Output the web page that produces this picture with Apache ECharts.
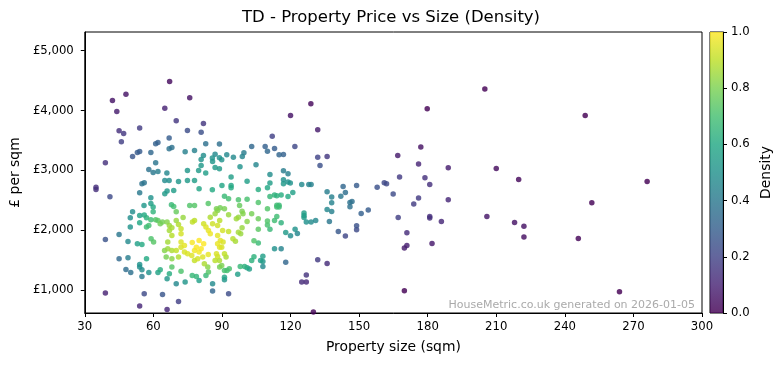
<!DOCTYPE html>
<html><head><meta charset="utf-8">
<script src="https://cdn.jsdelivr.net/npm/echarts@6/dist/echarts.min.js"></script>
<style>html,body{margin:0;padding:0;background:#fff}#c{width:782px;height:365px}</style>
</head><body><div id="c"></div>
<script>
// Property size (sqm) and price per sqm (£)
const sizes = [
 67.1,48.0,42.1,75.9,44.0,65.0,70.0,45.0,47.0,54.0,74.9,81.9,80.9,46.0,66.9,61.0,62.0,82.9,88.9,66.9,
 68.1,53.0,54.0,50.9,58.9,73.9,78.0,39.0,61.0,58.0,59.9,62.0,65.9,74.9,79.8,80.9,81.9,82.9,80.9,85.8,
 85.9,87.0,88.9,89.9,87.0,88.9,92.1,95.0,98.9,97.9,99.6,
 34.9,34.9,41.0,55.0,56.0,54.0,65.0,66.9,65.0,66.0,68.9,71.0,74.9,78.0,80.0,85.8,90.0,94.0,94.0,58.9,
 58.9,59.9,55.9,50.9,54.0,56.0,49.9,54.0,49.9,57.0,58.9,57.0,58.0,59.9,61.0,67.9,68.9,70.0,75.9,78.0,
 73.0,62.0,64.0,63.0,66.0,67.0,68.1,70.0,71.0,72.1,72.1,67.0,68.1,77.1,78.0,82.0,83.0,84.1,84.9,84.9,
 87.0,88.1,89.2,91.1,85.9,88.1,89.0,90.3,88.1,89.3,88.1,80.0,78.8,80.9,78.0,80.0,76.8,75.0,73.6,79.4,
 78.0,81.6,82.3,83.8,66.3,64.9,66.3,68.1,70.0,65.6,68.1,71.0,72.1,72.1,73.6,59.0,60.1,53.0,55.0,48.9,
 45.0,39.0,45.0,48.9,57.0,54.0,54.0,48.0,50.1,55.0,55.0,58.0,62.0,63.0,66.0,67.0,68.1,70.0,72.1,73.9,
 77.0,78.8,80.0,83.0,84.1,85.9,85.9,89.9,91.1,91.1,92.2,93.2,92.9,39.0,56.0,64.0,71.0,54.0,66.0,89.9,
 91.1,91.8,88.1,87.0,88.9,84.0,82.0,77.0,84.0,
 94.0,91.1,92.9,97.2,87.6,97.7,98.8,99.2,92.9,96.3,97.2,105.9,92.9,97.2,98.2,98.8,94.8,95.9,90.5,89.0,
 87.6,89.0,98.0,96.9,91.1,
 128.9,120.0,131.9,112.0,103.0,108.9,109.9,113.0,115.0,116.9,121.9,131.9,136.0,132.9,166.9,104.9,111.0,116.9,118.9,
 101.0,111.0,116.9,116.9,118.9,119.9,124.9,128.0,129.0,105.9,109.9,113.0,114.0,115.9,111.0,118.9,121.0,101.0,105.9,114.0,
 115.0,114.0,115.0,109.9,103.0,101.0,105.9,109.9,109.9,111.0,113.0,114.0,115.9,125.9,125.9,125.9,126.9,129.0,131.0,117.9,
 120.0,122.0,123.0,104.0,105.9,113.0,115.9,104.0,103.0,106.9,107.9,107.9,107.9,99.9,101.0,102.0,117.9,131.9,136.0,126.9,
 124.9,126.9,130.0,136.0,138.0,138.0,136.0,138.0,137.0,143.0,144.0,142.0,148.9,146.9,146.0,146.0,150.9,154.0,148.9,148.9,
 140.9,144.0,157.9,161.0,162.0,164.9,167.1,167.7,
 205.0,179.8,177.0,176.0,178.8,180.9,189.0,210.0,219.8,176.0,173.9,189.0,180.9,180.9,186.0,205.9,218.0,222.1,222.1,170.9,
 170.9,169.8,181.9,169.8,
 248.9,276.0,251.8,245.9,263.9
];
const prices = [
 4483,4272,4167,4211,3983,4039,3828,3661,3617,3706,3667,3783,3639,3478,3539,3444,3467,3444,3439,3361,
 3383,3300,3317,3233,3300,3311,3333,3128,3128,3017,2967,2983,2956,3000,3000,3083,3250,2956,3183,3206,
 3150,3272,3211,3178,3050,3028,3261,3222,3233,3061,3294,
 2720,2683,2561,2778,2794,2628,2833,2833,2611,2656,2667,2817,2833,2833,2694,2678,2750,2750,2889,2544,
 2450,2389,2417,2311,2250,2256,2211,2128,2056,2211,2178,2056,2083,2311,2178,2428,2400,2311,2417,2417,
 2217,2167,2139,2111,2139,2083,2044,2167,2100,2028,1944,2000,1917,2139,2167,2111,2056,2000,1944,2222,
 2278,2333,2378,2361,2111,2083,2167,2000,1917,1833,1778,1833,1722,1694,1667,1639,1583,1611,1639,1528,
 1500,1556,1444,1389,1806,1667,1694,1667,1667,1556,1528,1556,1806,1722,1750,1861,1806,1778,1767,1817,
 1933,1850,1528,1544,1528,1433,1389,1350,1300,1344,1233,1300,1300,1344,1194,1278,1389,1111,1322,1139,
 1250,1233,1167,1250,1306,1111,989,1417,1333,1222,1333,1361,944,956,944,933,817,739,683,1722,
 1611,1556,1567,1500,1500,2450,1780,1800,1600,
 2711,2572,2528,2511,2361,2417,2322,2278,2261,2194,2222,2194,1983,1972,1944,2044,1861,1822,1806,1722,
 1611,1389,1400,1272,1178,
 4111,3917,3678,3572,3400,3400,3322,3367,3261,3267,3400,3222,3233,3083,3250,3094,2933,2994,2944,
 2822,2789,2844,2778,2806,2789,2767,2767,2767,2683,2711,2589,2578,2589,2567,2567,2633,2522,2467,2422,
 2422,2389,2389,2361,2278,2150,2022,2156,2089,2022,2167,2233,2128,2289,2250,2217,2139,2139,2167,1967,
 1911,2022,1950,1828,1789,1694,1694,1561,1500,1500,1572,1483,1400,1400,1378,1356,1472,1511,1450,1256,
 1139,1139,640,2644,2556,2461,2350,2317,2150,2733,2633,2572,2750,2483,2467,2394,2283,2339,2078,2011,
 1983,1906,2722,2794,2778,2606,2217,2889,
 4356,4028,3389,3106,2878,2767,3044,3033,2850,2539,2439,2511,2233,2206,2150,2233,2133,2072,1889,1961,
 1750,1706,1783,994,
 3917,2817,2461,1867,978
];
const xTicks = [30, 60, 90, 120, 150, 180, 210, 240, 270, 300];
const yTicks = [1000, 2000, 3000, 4000, 5000];
const densityTicks = [0, 0.2, 0.4, 0.6, 0.8, 1.0];

const viridis = ['#440154','#482475','#414487','#355f8d','#2a788e','#21918c','#22a884','#44bf70','#7ad151','#bddf26','#fde725'];
const FONT = 'DejaVu Sans';

// Gaussian KDE (Scott's rule, full covariance) for colouring
function kde(xs, ys) {
  const n = xs.length;
  let mx = 0, my = 0;
  for (let i = 0; i < n; i++) { mx += xs[i]; my += ys[i]; }
  mx /= n; my /= n;
  let sxx = 0, syy = 0, sxy = 0;
  for (let i = 0; i < n; i++) {
    const dx = xs[i]-mx, dy = ys[i]-my;
    sxx += dx*dx; syy += dy*dy; sxy += dx*dy;
  }
  sxx /= (n-1); syy /= (n-1); sxy /= (n-1);
  const f = Math.pow(n, -1/6), f2 = f*f;
  const a = sxx*f2, b = sxy*f2, d = syy*f2;
  const det = a*d - b*b;
  const ia = d/det, ib = -b/det, id = a/det;
  const out = [];
  for (let i = 0; i < n; i++) {
    let s = 0;
    for (let j = 0; j < n; j++) {
      const dx = xs[i]-xs[j], dy = ys[i]-ys[j];
      s += Math.exp(-0.5*(ia*dx*dx + 2*ib*dx*dy + id*dy*dy));
    }
    out.push(s);
  }
  const mn = Math.min(...out), mxv = Math.max(...out);
  return out.map(v => (v - mn) / (mxv - mn));
}
const dens = kde(sizes, prices);
const pts = sizes.map((x, i) => [x, prices[i], dens[i]]).sort((p, q) => p[2] - q[2]);

const chart = echarts.init(document.getElementById('c'), null, {renderer: 'canvas'});
const tickStyle = {fontFamily: FONT, fontSize: 11.7, color: '#000'};
chart.setOption({
  animation: false,
  backgroundColor: '#fff',
  title: {
    text: 'TD - Property Price vs Size (Density)',
    left: 'center', top: 9, padding: 0,
    textStyle: {fontFamily: FONT, fontSize: 16.5, fontWeight: 'normal', color: '#000'}
  },
  grid: [
    {left: 83, right: 80, top: 32, bottom: 52, show: true, borderColor: '#000', borderWidth: 1, backgroundColor: 'transparent'},
    {left: 710, width: 13, top: 32, bottom: 52, show: true, borderColor: '#000', borderWidth: 1}
  ],
  xAxis: [
    {
      type: 'value', gridIndex: 0, min: xTicks[0], max: xTicks[xTicks.length-1], interval: 30,
      axisLine: {show: true, onZero: false, lineStyle: {color: '#000', width: 1}},
      axisTick: {show: true, length: 4, lineStyle: {color: '#000'}},
      axisLabel: Object.assign({margin: 8}, tickStyle),
      splitLine: {show: false},
      name: 'Property size (sqm)', nameLocation: 'middle', nameGap: 27,
      nameTextStyle: {fontFamily: FONT, fontSize: 13.9, color: '#000'}
    },
    {type: 'category', gridIndex: 1, data: [''], show: false}
  ],
  yAxis: [
    {
      type: 'value', gridIndex: 0, min: 624, max: 5308,
      axisLine: {show: true, onZero: false, lineStyle: {color: '#000', width: 1}},
      axisTick: {show: true, length: 4, lineStyle: {color: '#000'}, customValues: yTicks},
      axisLabel: Object.assign({margin: 11, customValues: yTicks,
        formatter: v => '£' + Number(v).toLocaleString('en-US')}, tickStyle),
      splitLine: {show: false},
      name: '£ per sqm', nameLocation: 'middle', nameGap: 60, nameRotate: 90,
      nameTextStyle: {fontFamily: FONT, fontSize: 13.9, color: '#000'}
    },
    {
      type: 'value', gridIndex: 1, min: 0, max: 1, interval: 0.2, position: 'right',
      axisLine: {show: true, lineStyle: {color: '#000', width: 1}},
      axisTick: {show: true, length: 4, lineStyle: {color: '#000'}},
      axisLabel: Object.assign({margin: 8, formatter: v => Number(v).toFixed(1)}, tickStyle),
      splitLine: {show: false},
      name: 'Density', nameLocation: 'middle', nameGap: 36, nameRotate: 90,
      nameTextStyle: {fontFamily: FONT, fontSize: 13.9, color: '#000'}
    }
  ],
  visualMap: {
    type: 'continuous', show: false, min: 0, max: 1, dimension: 2, seriesIndex: 0,
    inRange: {color: viridis}
  },
  series: [
    {
      type: 'scatter', xAxisIndex: 0, yAxisIndex: 0, data: pts,
      symbolSize: 5.5, itemStyle: {opacity: 0.82}, silent: true
    },
    {
      type: 'bar', xAxisIndex: 1, yAxisIndex: 1, data: densityTicks.length ? [1] : [1],
      barWidth: '100%', silent: true,
      itemStyle: {
        opacity: 0.82,
        color: new echarts.graphic.LinearGradient(0, 1, 0, 0,
          viridis.map((c, i) => ({offset: i/(viridis.length-1), color: c})))
      }
    }
  ],
  graphic: [{
    type: 'text', x: 695, y: 305, silent: true,
    style: {text: 'HouseMetric.co.uk generated on 2026-01-05', fill: '#aaaaaa',
      font: '11px "DejaVu Sans"', align: 'right', verticalAlign: 'middle'}
  }]
});
</script></body></html>
